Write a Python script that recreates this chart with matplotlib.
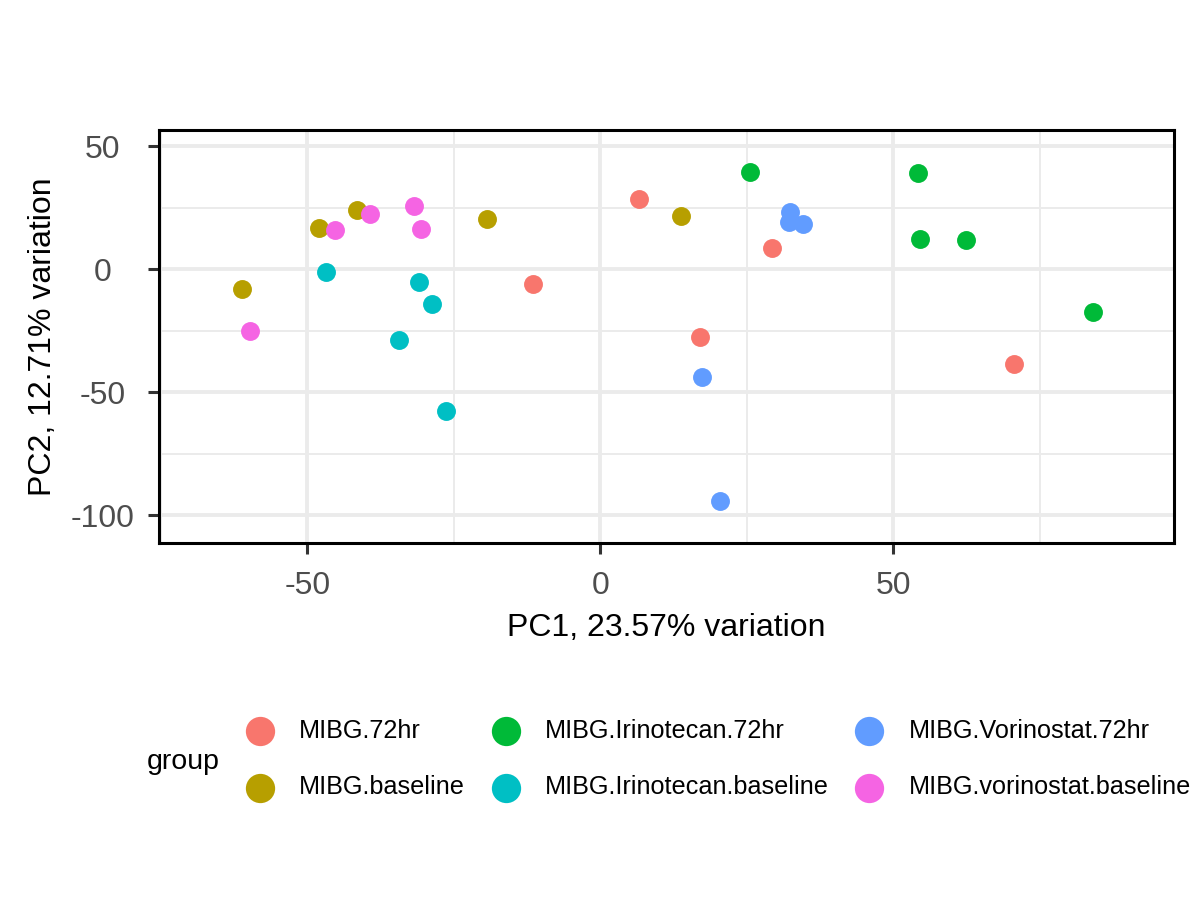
import matplotlib
matplotlib.use('Agg')
import matplotlib.pyplot as plt
from matplotlib.ticker import MultipleLocator

plt.rcParams['font.family'] = ['Liberation Sans', 'DejaVu Sans']
plt.rcParams['axes.unicode_minus'] = False

# groups and hue colours (ggplot default palette)
groups = ['MIBG.72hr', 'MIBG.baseline', 'MIBG.Irinotecan.72hr',
          'MIBG.Irinotecan.baseline', 'MIBG.Vorinostat.72hr', 'MIBG.vorinostat.baseline']
colors = ['#F8766D', '#B79F00', '#00BA38', '#00BFC4', '#619CFF', '#F564E3']

# PC1 / PC2 coordinates
pc1_72hr = [6.7, -11.4, 17.1, 29.4, 70.6]
pc2_72hr = [28.7, -5.9, -27.4, 8.7, -38.4]
pc1_base = [-61.1, -48.0, -41.5, -19.3, 13.8]
pc2_base = [-7.9, 16.9, 24.2, 20.5, 21.7]
pc1_iri72 = [25.6, 54.3, 54.6, 62.5, 84.1]
pc2_iri72 = [39.6, 39.2, 12.4, 12.0, -17.3]
pc1_iribase = [-46.8, -30.9, -28.7, -34.3, -26.3]
pc2_iribase = [-1.0, -5.1, -14.0, -28.7, -57.5]
pc1_vor72 = [32.4, 32.3, 34.6, 17.4, 20.5]
pc2_vor72 = [23.4, 19.3, 18.5, -43.7, -94.1]
pc1_vorbase = [-59.7, -45.2, -39.2, -31.7, -30.5]
pc2_vorbase = [-25.0, 16.1, 22.6, 25.8, 16.5]

pc1 = [pc1_72hr, pc1_base, pc1_iri72, pc1_iribase, pc1_vor72, pc1_vorbase]
pc2 = [pc2_72hr, pc2_base, pc2_iri72, pc2_iribase, pc2_vor72, pc2_vorbase]

fig = plt.figure(figsize=(12, 9), dpi=100)
ax = fig.add_axes([0.1325, 0.3967, 0.8458, 0.4589])

for g, c, xs, ys in zip(groups, colors, pc1, pc2):
    ax.scatter(xs, ys, s=185, color=c, label=g, linewidths=0, zorder=3)

ax.set_xlim(-75.3, 97.95)
ax.set_ylim(-111.2, 56.7)
ax.xaxis.set_major_locator(MultipleLocator(50))
ax.yaxis.set_major_locator(MultipleLocator(50))
ax.xaxis.set_minor_locator(MultipleLocator(25))
ax.yaxis.set_minor_locator(MultipleLocator(25))
ax.grid(which='major', color='#EBEBEB', linewidth=2.8, zorder=0)
ax.grid(which='minor', color='#EBEBEB', linewidth=1.4, zorder=0)
ax.set_axisbelow(True)
for sp in ax.spines.values():
    sp.set_linewidth(2.2)
    sp.set_color('black')
ax.tick_params(which='major', length=8, width=2.2, color='#333333',
               labelsize=23, labelcolor='#4D4D4D')
ax.tick_params(axis='x', which='major', pad=12)
# y labels are centred (ggplot style), so the pad reaches the label centre
ax.tick_params(axis='y', which='major', pad=32.5)
for lab in ax.get_yticklabels():
    lab.set_horizontalalignment('center')
ax.tick_params(which='minor', length=0)

ax.set_xlabel('PC1, 23.57% variation', fontsize=23, labelpad=9)
ax.set_ylabel('PC2, 12.71% variation', fontsize=23, labelpad=9)

ax.legend(loc='center left', bbox_to_anchor=(0.206, 0.1567),
          bbox_transform=fig.transFigure, ncol=3, frameon=False,
          fontsize=18.2, markerscale=1.55, handlelength=1.0, handletextpad=1.06,
          columnspacing=1.1, labelspacing=1.3, borderpad=0, borderaxespad=0)
fig.text(147 / 1200, 1 - 762 / 900, 'group', fontsize=20.5, ha='left', va='center')

plt.savefig('out.png', dpi=100)
